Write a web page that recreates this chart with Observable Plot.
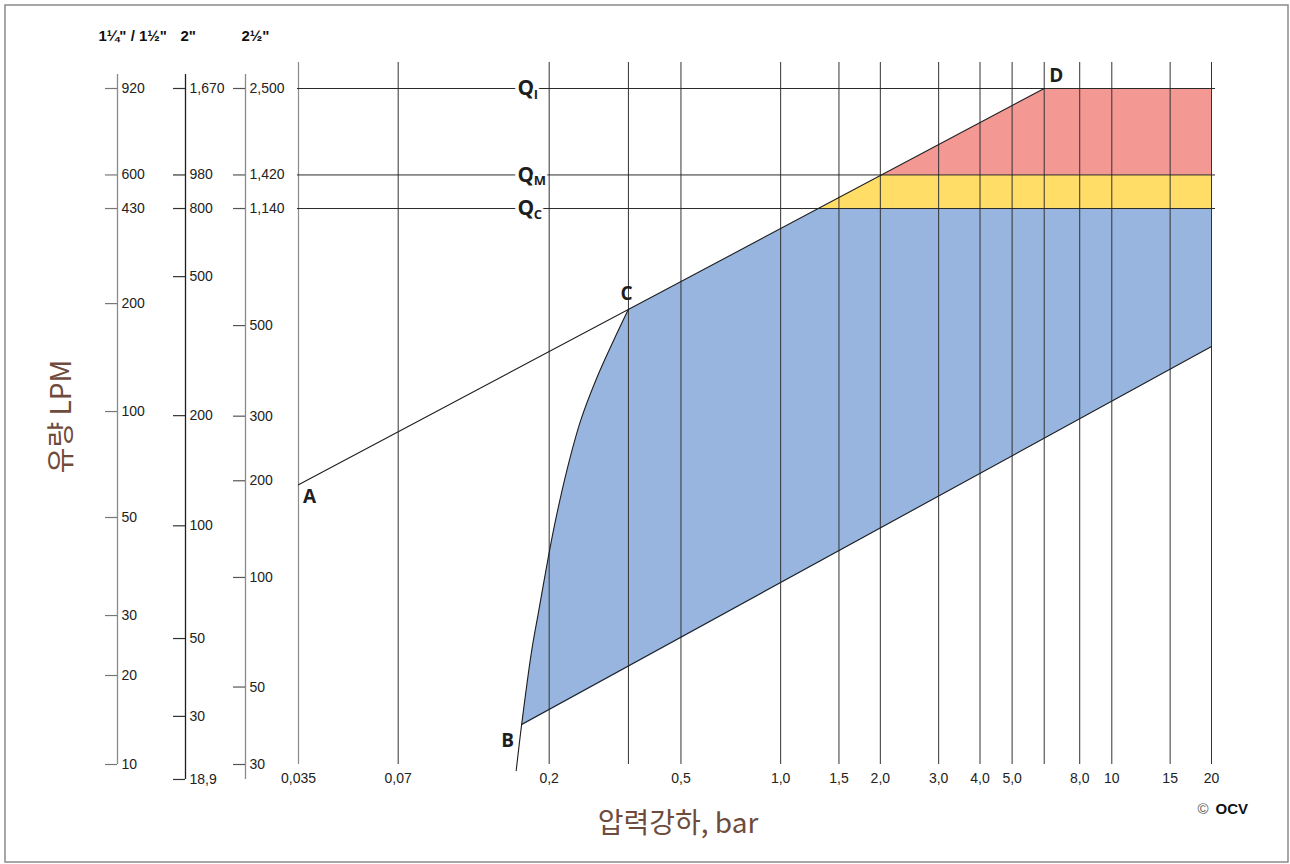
<!DOCTYPE html>
<html><head><meta charset="utf-8">
<script src="https://cdn.jsdelivr.net/npm/d3@7"></script>
<script src="https://cdn.jsdelivr.net/npm/@observablehq/plot@0.6"></script>
<style>
html,body{margin:0;padding:0;background:#fff;}
#chart{width:1290px;height:864px;overflow:hidden;}
</style></head><body><div id="chart"></div>
<script>
// ---------------- data ----------------
const pressureGrid = [0.035, 0.07, 0.2, 0.347, 0.5, 1, 1.5, 2, 3, 4, 5, 6.25, 8, 10, 15, 20];
const pressureTicks = [0.035, 0.07, 0.2, 0.5, 1, 1.5, 2, 3, 4, 5, 8, 10, 15, 20];
const pressureTickLabels = ["0,035","0,07","0,2","0,5","1,0","1,5","2,0","3,0","4,0","5,0","8,0","10","15","20"];

const qLevels = [2500, 1420, 1140];
const qNames = ["I", "M", "C"];
const qLabelPressure = 0.17;

const axisHeaders = ["1\u00bc\" / 1\u00bd\"", "2\"", "2\u00bd\""];
// tick labels of the three pipe-size axes and the flow level (main scale) they sit at
const axis1Labels = ["920","600","430","200","100","50","30","20","10"];
const axis1Flow   = [2500, 1420, 1140, 612, 302, 151, 79.5, 53.7, 30];
const axis2Labels = ["1,670","980","800","500","200","100","50","30","18,9"];
const axis2Flow   = [2500, 1420, 1140, 730, 294, 143, 68.4, 41.1, 27.2];
const axis3Labels = ["2,500","1,420","1,140","500","300","200","100","50","30"];
const axis3Flow   = [2500, 1420, 1140, 530, 293, 192, 102, 49.8, 30];

// characteristic lines
const upperLineP = [0.035, 6.25];
const upperLineQ = [187, 2500];
const lowerLineP = [0.165, 20];
const lowerLineQ = [39, 462];
const curveP = [0.159, 0.165, 0.177, 0.186, 0.198, 0.208, 0.226, 0.249, 0.278, 0.313, 0.347];
const curveQ = [28.8, 38.7, 63, 82, 114, 145, 205, 285, 375, 481, 590];

// zone corners
const qcCornerP = 1.30;
const qmCornerP = 2.02;
const dCornerP = 6.25;
const maxP = 20;
const blueRightQ = 462;

const pointNames = ["A", "B", "C", "D"];
const pointP = [0.035, 0.165, 0.347, 6.25];
const pointQ = [187, 39, 590, 2500];

// ---------------- layout / style ----------------
const W = 1290, H = 864, mL = 298, mR = 79, mT = 88, mB = 100;
const axisPx = [117, 185, 245];
const headerPx = [98, 180, 241];
const axisLineColor = ["#8a8a8a", "#1f1f1f", "#8a8a8a"];
const axisTickColor = ["#777", "#333", "#555"];
const axisBottomExt = [0, 0, -15];
const pointOffsets = [[11, 12], [-14, 17], [-2, -15], [12, -13]];
const numFont = "'Liberation Sans Narrow','Arial Narrow','Liberation Sans',sans-serif";
const boldFont = "'Open Sans','Liberation Sans',sans-serif";
const brown = "#6e4b3c";

const xMin = pressureGrid[0];
const pts = (P, Q) => P.map((p, i) => ({p, q: Q[i]}));

const curve = pts(curveP, curveQ);
const curveInZone = curve.slice(1);
const bluePoly = curveInZone.concat([
  {p: qcCornerP, q: qLevels[2]}, {p: maxP, q: qLevels[2]}, {p: maxP, q: blueRightQ}
]);
const yellowPoly = [
  {p: qcCornerP, q: qLevels[2]}, {p: qmCornerP, q: qLevels[1]}, {p: maxP, q: qLevels[1]}, {p: maxP, q: qLevels[2]}
];
const pinkPoly = [
  {p: qmCornerP, q: qLevels[1]}, {p: dCornerP, q: qLevels[0]}, {p: maxP, q: qLevels[0]}, {p: maxP, q: qLevels[1]}
];

const marks = [];
// zones
marks.push(Plot.line(bluePoly, {x: "p", y: "q", fill: "#97b5de", stroke: "none"}));
marks.push(Plot.line(curveInZone, {x: "p", y: "q", fill: "#97b5de", stroke: "none", curve: "catmull-rom"}));
marks.push(Plot.line(yellowPoly, {x: "p", y: "q", fill: "#ffdd66", stroke: "none"}));
marks.push(Plot.line(pinkPoly, {x: "p", y: "q", fill: "#f49894", stroke: "none"}));

// vertical grid
marks.push(Plot.ruleX(pressureGrid.slice(0, 1), {stroke: "#8c8c8c", strokeWidth: 1.2, insetTop: -26}));
marks.push(Plot.ruleX(pressureGrid.slice(1), {stroke: "#333", strokeWidth: 1, insetTop: -26}));

// Q lines
marks.push(Plot.ruleY(qLevels, {stroke: "#2a2a2a", strokeWidth: 1, insetLeft: -1, insetRight: -4}));
const qData = qLevels.map((q, i) => ({q, name: qNames[i]}));
marks.push(Plot.text(qData, {x: () => qLabelPressure, y: "q", text: () => "Q", fontSize: 21, fontWeight: "bold",
  fontFamily: boldFont, fill: "#1e1e1e", stroke: "white", strokeWidth: 7, paintOrder: "stroke"}));
marks.push(Plot.text(qData, {x: () => qLabelPressure, y: "q", text: "name", dx: 8, dy: 6, textAnchor: "start",
  fontSize: 13, fontWeight: "bold", fontFamily: boldFont, fill: "#1e1e1e", stroke: "white", strokeWidth: 5, paintOrder: "stroke"}));

// characteristic lines
marks.push(Plot.line(curve, {x: "p", y: "q", stroke: "#1e1e1e", strokeWidth: 1.1, curve: "catmull-rom"}));
marks.push(Plot.line(pts(upperLineP, upperLineQ), {x: "p", y: "q", stroke: "#1e1e1e", strokeWidth: 1.1}));
marks.push(Plot.line(pts(lowerLineP, lowerLineQ), {x: "p", y: "q", stroke: "#1e1e1e", strokeWidth: 1.1}));

// point labels
pointNames.forEach((n, i) => {
  marks.push(Plot.text([{p: pointP[i], q: pointQ[i], n}], {x: "p", y: "q", text: "n",
    dx: pointOffsets[i][0], dy: pointOffsets[i][1], fontSize: 19, fontWeight: "bold", fontFamily: boldFont, fill: "#1e1e1e"}));
});

// x tick labels
marks.push(Plot.text(pressureTicks.map((p, i) => ({p, t: pressureTickLabels[i]})), {x: "p", text: "t",
  frameAnchor: "bottom", lineAnchor: "middle", dy: 14, fontSize: 14, fontFamily: numFont, fill: "#222"}));

// pipe-size axes
const axes = [[axis1Labels, axis1Flow], [axis2Labels, axis2Flow], [axis3Labels, axis3Flow]];
axes.forEach(([labels, flows], i) => {
  const ticks = labels.map((t, j) => ({t, q: flows[j]}));
  const off = axisPx[i] - mL;
  marks.push(Plot.ruleX([0], {x: () => xMin, y1: () => d3.max(flows), y2: () => d3.min(flows), dx: off,
    insetTop: -14, insetBottom: axisBottomExt[i], stroke: axisLineColor[i], strokeWidth: 1.3}));
  marks.push(Plot.ruleY(ticks, {x1: () => xMin, x2: () => xMin, y: "q", insetLeft: -12, dx: off,
    stroke: axisTickColor[i], strokeWidth: 1.2}));
  marks.push(Plot.text(ticks, {x: () => xMin, y: "q", text: "t", dx: off + 4, textAnchor: "start",
    fontSize: 14, fontFamily: numFont, fill: "#222"}));
  marks.push(Plot.text([axisHeaders[i]], {x: () => xMin, y: () => qLevels[0], text: d => d, dx: headerPx[i] - mL, dy: -52,
    textAnchor: "start", fontSize: 15, fontWeight: "bold", fontFamily: numFont, fill: "#111"}));
});

// axis titles
marks.push(Plot.text(["압력강하, bar"], {frameAnchor: "bottom", lineAnchor: "middle", text: d => d, dx: -77, dy: 60, fontSize: 28,
  fontFamily: "'Noto Sans CJK KR',sans-serif", fill: brown}));
marks.push(Plot.text(["유량 LPM"], {frameAnchor: "left", textAnchor: "middle", lineAnchor: "middle", text: d => d, dx: 62 - mL, dy: -10, rotate: -90, fontSize: 28,
  fontFamily: "'Noto Sans CJK KR',sans-serif", fill: brown}));

// copyright
marks.push(Plot.text(["\u00a9"], {frameAnchor: "bottom-right", lineAnchor: "middle", textAnchor: "end", text: d => d, dx: -3, dy: 45, fontSize: 15, fill: "#555", fontFamily: "'Liberation Sans',sans-serif"}));
marks.push(Plot.text(["OCV"], {frameAnchor: "bottom-right", lineAnchor: "middle", text: d => d, dx: 4, dy: 45, textAnchor: "start", fontSize: 15,
  fontWeight: "bold", fill: "#111", fontFamily: numFont}));

// outer border
marks.push(Plot.frame({stroke: "#8a8a8a", strokeWidth: 1.5, insetLeft: -(mL - 4.5), insetTop: -(mT - 4.5), insetRight: -(mR - 2.5), insetBottom: -(mB - 2.5)}));

const chart = Plot.plot({
  width: W, height: H,
  marginLeft: mL, marginRight: mR, marginTop: mT, marginBottom: mB,
  x: {type: "log", domain: [pressureGrid[0], maxP], axis: null},
  y: {type: "log", domain: [30, qLevels[0]], axis: null},
  style: {background: "white", overflow: "visible"},
  marks
});
document.getElementById("chart").appendChild(chart);
</script>
</body></html>
